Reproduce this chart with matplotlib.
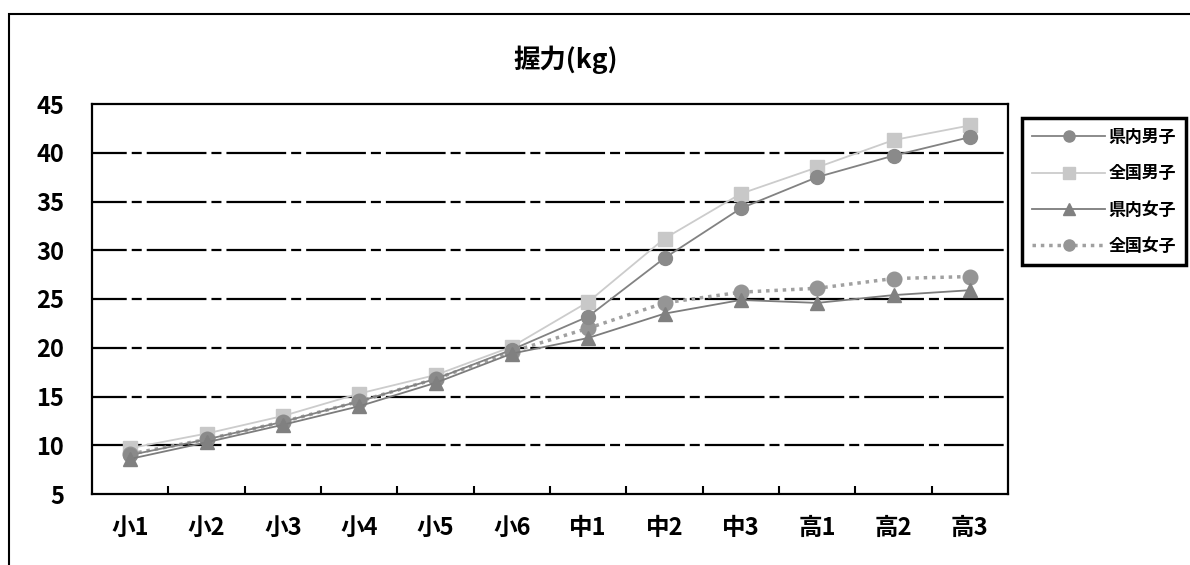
import matplotlib
matplotlib.use('Agg')
from matplotlib import pyplot as plt
from matplotlib.patches import Rectangle
import numpy as np

plt.rcParams['font.family'] = ['Noto Sans CJK JP', 'DejaVu Sans']
plt.rcParams['lines.scale_dashes'] = False

grades = ['小1', '小2', '小3', '小4', '小5', '小6', '中1', '中2', '中3', '高1', '高2', '高3']
pref_boys = [9.0, 10.6, 12.4, 14.5, 16.8, 19.8, 23.2, 29.2, 34.3, 37.5, 39.7, 41.6]
nat_boys = [9.7, 11.2, 13.0, 15.3, 17.2, 20.1, 24.7, 31.2, 35.8, 38.5, 41.3, 42.8]
pref_girls = [8.6, 10.3, 12.1, 14.0, 16.4, 19.4, 21.0, 23.5, 24.9, 24.6, 25.4, 25.9]
nat_girls = [9.1, 10.6, 12.4, 14.5, 16.8, 19.6, 22.0, 24.6, 25.7, 26.1, 27.1, 27.3]
series_names = ['県内男子', '全国男子', '県内女子', '全国女子']
y_ticks = [5, 10, 15, 20, 25, 30, 35, 40, 45]

fig = plt.figure(figsize=(11.9, 5.65), dpi=100)
ax = fig.add_axes([92 / 1190, 1 - 494 / 565, 916 / 1190, 390 / 565])

# outer chart frame (runs off the right and bottom of the image)
fig.add_artist(Rectangle((9 / 1190, -0.1), 1.2, 1.1 - 14 / 565, transform=fig.transFigure,
                         fill=False, edgecolor='black', linewidth=1.5))

x = np.arange(len(grades))
ax.plot(x, pref_boys, color='#828282', lw=1.3, marker='o', ms=10, mec='#8a8a8a', mfc='#8a8a8a',
        label=series_names[0], zorder=4)
ax.plot(x, nat_boys, color='#cccccc', lw=1.3, marker='s', ms=10, mec='#c8c8c8', mfc='#c8c8c8',
        label=series_names[1], zorder=3)
ax.plot(x, pref_girls, color='#7c7c7c', lw=1.3, marker='^', ms=10, mec='#808080', mfc='#808080',
        label=series_names[2], zorder=4)
ax.plot(x, nat_girls, color='#a0a0a0', lw=2.5, ls=(0, (2.5, 3.5)), marker='o', ms=10.5,
        mec='#959595', mfc='#959595', label=series_names[3], zorder=3)

# dash-dot gridlines
for v in y_ticks[1:-1]:
    ax.axhline(v, color='black', lw=1.6, ls=(18, (43, 3.6, 7.2, 3.6)), zorder=1)

ax.set_xlim(-0.5, len(grades) - 0.5)
ax.set_ylim(5, 45)
ax.set_yticks(y_ticks)
ax.set_yticklabels([str(v) for v in y_ticks], fontsize=17, fontweight='bold')
ax.tick_params(axis='y', length=0, pad=20)
ax.set_xticks(x)
ax.set_xticklabels(grades, fontsize=17, fontweight='bold')
ax.tick_params(axis='x', which='major', length=0, pad=16)
ax.set_xticks(np.arange(0.5, len(grades) - 1, 1), minor=True)
ax.tick_params(axis='x', which='minor', direction='in', length=6, width=1.5)
for s in ax.spines.values():
    s.set_linewidth(1.6)

fig.text(566 / 1190, 1 - 60 / 565, '握力(kg)', ha='center', va='center', fontsize=19, fontweight='bold')

leg = fig.legend(loc='upper left', bbox_to_anchor=(1022 / 1190, 1 - 118 / 565),
                 prop={'size': 12.2, 'weight': 'bold'}, handlelength=4.3, labelspacing=1.08,
                 handletextpad=0.2, borderpad=0.6, fancybox=False, framealpha=1, borderaxespad=0)
leg.get_frame().set_edgecolor('black')
leg.get_frame().set_linewidth(2.5)
for h in leg.legend_handles:
    h.set_markersize(8)

plt.savefig('out.png', dpi=100)
